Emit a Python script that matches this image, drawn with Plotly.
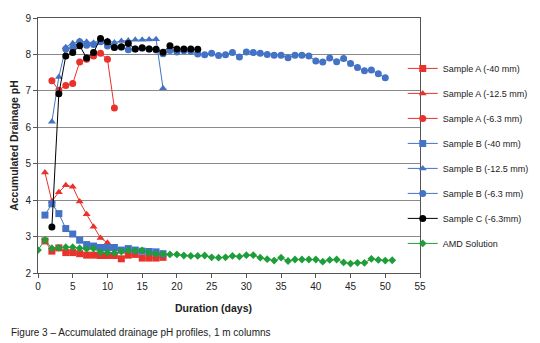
import plotly.graph_objects as go

# ---- data ----
a40_days = [1, 2, 3, 4, 5, 6, 7, 8, 9, 10, 11, 12, 13, 14, 15, 16, 17, 18]
a40_ph = [2.88, 2.60, 2.69, 2.56, 2.56, 2.53, 2.49, 2.49, 2.48, 2.48, 2.48, 2.39, 2.49, 2.51, 2.41, 2.41, 2.41, 2.43]

a125_days = [1, 2, 3, 4, 5, 6, 7, 8, 9, 10]
a125_ph = [4.76, 3.97, 4.22, 4.41, 4.37, 3.96, 3.61, 3.27, 2.96, 2.83]

a63_days = [2, 3, 4, 5, 6, 7, 8, 9, 10, 11]
a63_ph = [7.28, 7.02, 7.15, 7.20, 7.79, 7.87, 7.96, 8.03, 7.87, 6.53]

b40_days = [1, 2, 3, 4, 5, 6, 7, 8, 9, 10, 11, 12, 13, 14, 15, 16, 17, 18]
b40_ph = [3.59, 3.90, 3.63, 3.22, 3.07, 2.90, 2.78, 2.74, 2.70, 2.70, 2.70, 2.63, 2.67, 2.63, 2.60, 2.59, 2.58, 2.53]

b125_days = [2, 3, 4, 5, 6, 7, 8, 9, 10, 11, 12, 13, 14, 15, 16, 17, 18]
b125_ph = [6.15, 7.38, 8.20, 8.31, 8.37, 8.35, 8.32, 8.38, 8.37, 8.33, 8.37, 8.38, 8.40, 8.40, 8.41, 8.42, 7.07]

b63_days = [4, 5, 6, 7, 8, 9, 10, 11, 12, 13, 14, 15, 16, 17, 18, 19, 20, 21, 22, 23, 24,
            25, 26, 27, 28, 29, 30, 31, 32, 33, 34, 35, 36, 37, 38, 39, 40, 41, 42, 43, 44,
            45, 46, 47, 48, 49, 50]
b63_ph = [8.15, 8.18, 8.35, 8.25, 8.27, 8.35, 8.23, 8.20, 8.20, 8.13, 8.15, 8.17, 8.15, 8.12, 8.02, 8.11,
          8.07, 8.10, 8.09, 8.01, 7.99, 8.03, 7.97, 7.99, 8.05, 7.93, 8.07, 8.05, 8.03, 8.00, 7.98,
          7.98, 7.91, 7.98, 7.98, 7.96, 7.82, 7.79, 7.90, 7.80, 7.89, 7.75, 7.64, 7.55, 7.57, 7.47, 7.36]

c63_days = [2, 3, 4, 5, 6, 7, 8, 9, 10, 11, 12, 13, 14, 15, 16, 17, 18, 19, 20, 21, 22, 23]
c63_ph = [3.26, 6.92, 7.96, 8.05, 8.24, 7.90, 8.05, 8.44, 8.35, 8.19, 8.21, 8.30, 8.15, 8.18,
          8.15, 8.14, 8.06, 8.24, 8.15, 8.15, 8.15, 8.14]

amd_days = list(range(0, 52))
amd_ph = [2.63, 2.91, 2.68, 2.69, 2.71, 2.71, 2.68, 2.66, 2.67, 2.57, 2.56, 2.55, 2.59, 2.62,
          2.61, 2.62, 2.55, 2.52, 2.52, 2.51, 2.51, 2.48, 2.47, 2.47, 2.48, 2.43, 2.42, 2.43,
          2.47, 2.45, 2.49, 2.49, 2.42, 2.38, 2.34, 2.42, 2.33, 2.37, 2.37, 2.37, 2.37, 2.31,
          2.36, 2.37, 2.29, 2.26, 2.28, 2.28, 2.39, 2.36, 2.34, 2.35]

x_ticks = [0, 5, 10, 15, 20, 25, 30, 35, 40, 45, 50, 55]
y_ticks = [2, 3, 4, 5, 6, 7, 8, 9]

RED = "#e8322b"
BLUE = "#4472c4"
BLACK = "#000000"
GREEN = "#1e9e3a"

series = [
    ("Sample A (-40 mm)", a40_days, a40_ph, RED, "square", 7),
    ("Sample A (-12.5 mm)", a125_days, a125_ph, RED, "triangle-up", 7),
    ("Sample A (-6.3 mm)", a63_days, a63_ph, RED, "circle", 7),
    ("Sample B (-40 mm)", b40_days, b40_ph, BLUE, "square", 7),
    ("Sample B (-12.5 mm)", b125_days, b125_ph, BLUE, "triangle-up", 7),
    ("Sample B (-6.3 mm)", b63_days, b63_ph, BLUE, "circle", 7),
    ("Sample C (-6.3mm)", c63_days, c63_ph, BLACK, "circle", 7),
    ("AMD Solution", amd_days, amd_ph, GREEN, "diamond", 6),
]

fig = go.Figure()
for i, (name, xs, ys, col, sym, sz) in enumerate(series):
    fig.add_trace(go.Scatter(
        x=xs, y=ys, name=name, mode="lines+markers",
        line=dict(color=col, width=1),
        marker=dict(color=col, symbol=sym, size=sz, line=dict(width=0)),
        legendgroup=f"g{i}",
    ))

# page body has an 8px margin, so the figure is 532x335 drawn at (8, 8)
fig.update_layout(
    width=532, height=335,
    margin=dict(l=30, r=120, t=10, b=70, autoexpand=False),
    paper_bgcolor="white", plot_bgcolor="white",
    font=dict(family="Liberation Sans, Arial, sans-serif", size=10, color="#222"),
    showlegend=True,
    legend=dict(xref="container", yref="container", x=0.742, y=0.863,
                xanchor="left", yanchor="top", maxheight=320,
                font=dict(size=9, color="#222"), tracegroupgap=6,
                bgcolor="rgba(0,0,0,0)", itemwidth=30),
    xaxis=dict(range=[0, 55], tickvals=x_ticks, ticks="outside", ticklen=4,
               tickcolor="#555", showline=True, linecolor="#555", mirror=True,
               showgrid=False, zeroline=False, automargin=False),
    yaxis=dict(range=[2, 9], tickvals=y_ticks, ticks="outside", ticklen=4,
               tickcolor="#555", showline=True, linecolor="#555", mirror=True,
               showgrid=True, gridcolor="#8a8a8a", gridwidth=1, zeroline=False,
               automargin=False,
               title=dict(text="<b>Accumulated Drainage pH</b>", font=dict(size=10.5, color="#222"),
                          standoff=6)),
)

fig.add_annotation(text="<b>Duration (days)</b>",
                   xref="paper", yref="paper", x=0.46, y=-0.137,
                   xanchor="center", yanchor="middle", showarrow=False,
                   font=dict(size=10.5, color="#222"))

fig.add_annotation(text="Figure 3 \u2013 Accumulated drainage pH profiles, 1 m columns",
                   xref="paper", yref="paper", x=-0.075, y=-0.234,
                   xanchor="left", yanchor="middle", showarrow=False,
                   font=dict(size=10, color="#222"))

fig.write_html("out.html")
